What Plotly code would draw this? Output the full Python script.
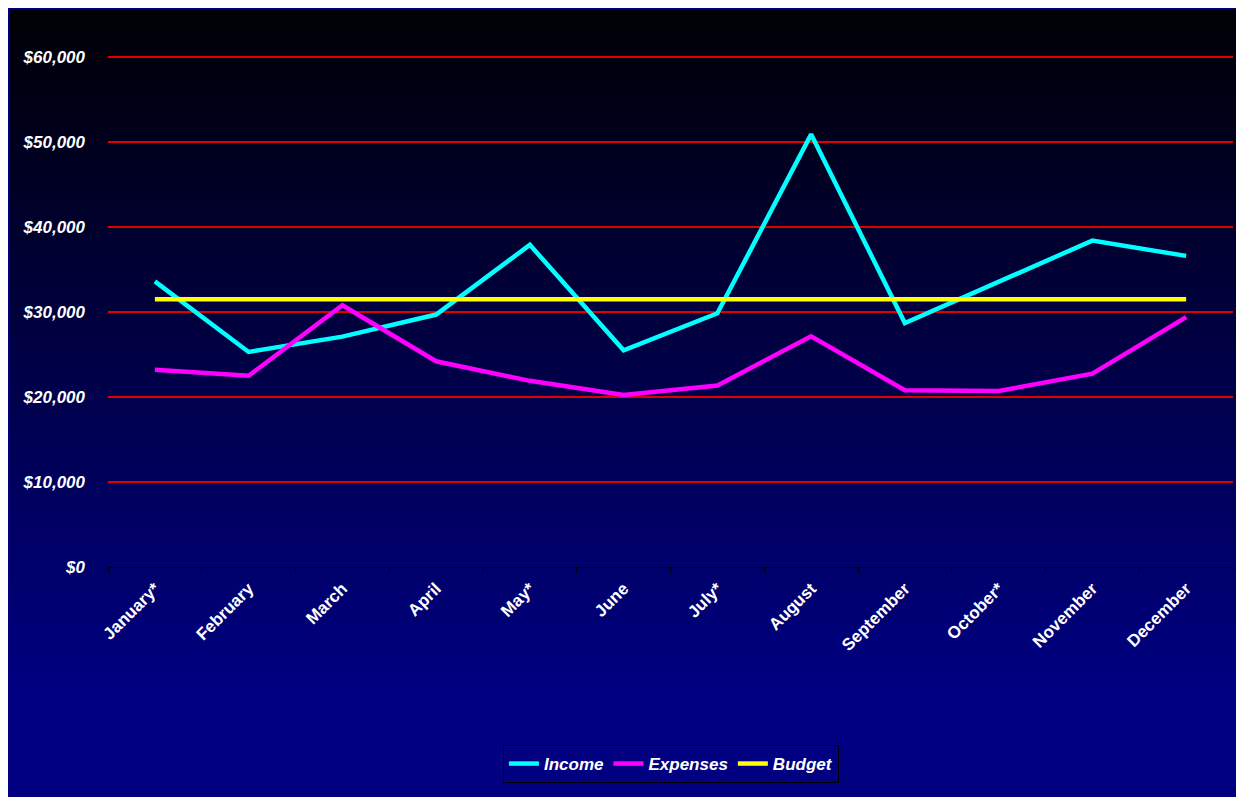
import base64
import plotly.graph_objects as go

months = ["January*", "February", "March", "April", "May*", "June", "July*",
          "August", "September", "October*", "November", "December"]
income = [33600, 25300, 27100, 29700, 37900, 25500, 29850, 50900, 28700, 33600, 38400, 36600]
expenses = [23200, 22500, 30800, 24200, 21900, 20250, 21350, 27150, 20800, 20700, 22750, 29400]
budget = [31500] * 12
ytickvals = [0, 10000, 20000, 30000, 40000, 50000, 60000]
yticktext = ["$0", "$10,000", "$20,000", "$30,000", "$40,000", "$50,000", "$60,000"]

W, H = 1236, 789
L, R, T, B = 100, 11, 40, 230
pw, ph = W - L - R, H - T - B
ymax = 60000 * ph / 510.0

svg = ('<svg xmlns="http://www.w3.org/2000/svg" width="100" height="100" preserveAspectRatio="none">'
       '<defs><linearGradient id="g" x1="0" y1="0" x2="0" y2="1">'
       '<stop offset="0" stop-color="#000005"/>'
       '<stop offset="0.85" stop-color="#000080"/>'
       '<stop offset="1" stop-color="#000080"/>'
       '</linearGradient></defs>'
       '<rect x="0" y="0" width="100" height="100" fill="url(#g)"/></svg>')
src = "data:image/svg+xml;base64," + base64.b64encode(svg.encode()).decode()

fig = go.Figure()
fig.add_trace(go.Scatter(x=months, y=income, name="Income", mode="lines",
                         line=dict(color="#00FFFF", width=4.5)))
fig.add_trace(go.Scatter(x=months, y=expenses, name="Expenses", mode="lines",
                         line=dict(color="#FF00FF", width=4.5)))
fig.add_trace(go.Scatter(x=months, y=budget, name="Budget", mode="lines",
                         line=dict(color="#FFFF00", width=4.5)))

fig.update_layout(
    width=W, height=H,
    margin=dict(l=L, r=R, t=T, b=B),
    paper_bgcolor="#000080",
    plot_bgcolor="rgba(0,0,0,0)",
    images=[dict(source=src, xref="paper", yref="paper",
                 x=-L / pw, y=1 + T / ph, sizex=W / pw, sizey=H / ph,
                 xanchor="left", yanchor="top", sizing="stretch", layer="below")],
    shapes=[dict(type="rect", xref="paper", yref="paper", layer="above",
                 x0=-L / pw, x1=1 + R / pw, y0=-B / ph, y1=1 + T / ph,
                 line=dict(width=3, color="#000080"), fillcolor="rgba(0,0,0,0)")],
    showlegend=True,
    legend=dict(orientation="h", x=0.5004, xanchor="center", y=(559 - 737) / ph, yanchor="top",
                bgcolor="#000080", bordercolor="black", borderwidth=1,
                font=dict(family="Liberation Sans", size=17, color="white",
                          weight="bold", style="italic"),
                itemwidth=30, tracegroupgap=0, valign="middle"),
    xaxis=dict(type="category", range=[-0.5, 11.5], showgrid=False,
               showline=True, linecolor="black", linewidth=1,
               ticks="outside", tickson="boundaries", ticklen=5, tickcolor="black",
               tickangle=-45, ticklabelstandoff=4,
               tickfont=dict(family="Liberation Sans", size=17, color="white", weight="bold")),
    yaxis=dict(range=[0, ymax], tickvals=ytickvals, ticktext=yticktext,
               showgrid=True, gridcolor="#E00000", gridwidth=2, zeroline=False,
               showline=False, ticks="", ticklabelstandoff=22,
               tickfont=dict(family="Liberation Sans", size=17, color="white",
                             weight="bold", style="italic")),
)

fig.write_html("out.html")
